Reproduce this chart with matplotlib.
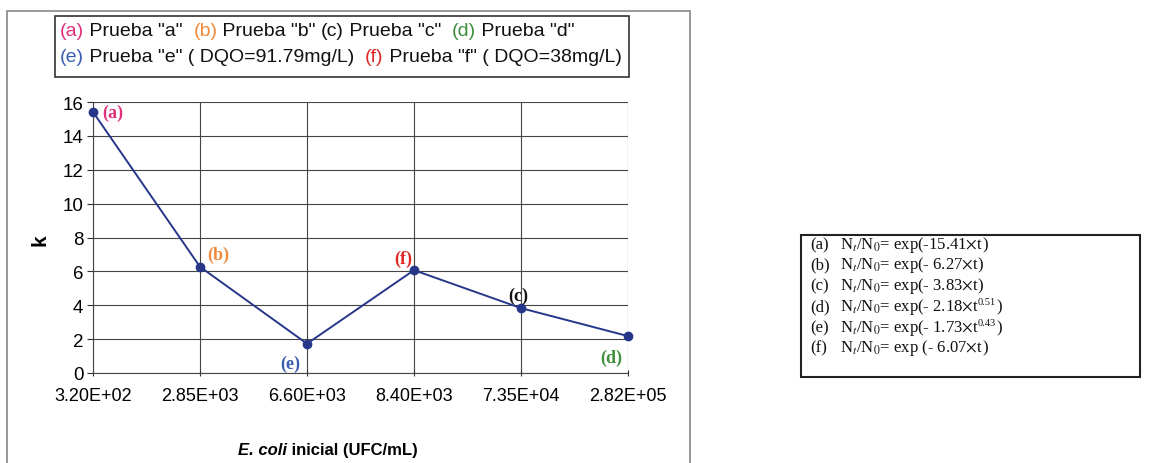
import matplotlib.pyplot as plt
from matplotlib.patches import Rectangle

# inoculum levels (categorical axis) and rate constants k
inoculo = ["3.20E+02", "2.85E+03", "6.60E+03", "8.40E+03", "7.35E+04", "2.82E+05"]
k_vals = [15.41, 6.27, 1.73, 6.07, 3.83, 2.18]
etiquetas = ["(a)", "(b)", "(e)", "(f)", "(c)", "(d)"]
colores = ["#e0307a", "#f08a3a", "#3a5cb0", "#e02828", "#111111", "#3f8f3f"]
y_ticks = [0, 2, 4, 6, 8, 10, 12, 14, 16]

# equation rows: tag, body, exponent on t (None if first order)
ecuaciones = [
    ("(a)", r"N$_t$/N$_0$= exp(-15.41$\times$t", None),
    ("(b)", r"N$_t$/N$_0$= exp(- 6.27$\times$t", None),
    ("(c)", r"N$_t$/N$_0$= exp(- 3.83$\times$t", None),
    ("(d)", r"N$_t$/N$_0$= exp(- 2.18$\times$t", "0.51"),
    ("(e)", r"N$_t$/N$_0$= exp(- 1.73$\times$t", "0.43"),
    ("(f)", r"N$_t$/N$_0$= exp (- 6.07$\times$t", None),
]
# text baselines of the equation rows (px from top)
fila_y = [249, 269, 290, 311, 332, 352]

plt.rcParams['font.family'] = ['Liberation Sans', 'DejaVu Sans']
plt.rcParams['mathtext.fontset'] = 'stix'

W, H = 1152, 464
fig = plt.figure(figsize=(W / 100, H / 100), dpi=100)

def fx(px):
    return px / W

def fy(py):
    return 1 - py / H

# outer frame of the chart area
fig.patches.append(Rectangle((fx(7), fy(480)), fx(683), fy(12) - fy(480),
                             transform=fig.transFigure, fill=False,
                             edgecolor="#888888", lw=1.2))

ax = fig.add_axes([fx(93), fy(374), fx(628) - fx(93), fy(103) - fy(374)])
x = list(range(len(inoculo)))
ax.plot(x, k_vals, color="#26378a", lw=1.4, marker="o", ms=6,
        markerfacecolor="#26378a", markeredgecolor="#26378a", clip_on=False, zorder=3)

ax.set_xlim(0, len(inoculo) - 1)
ax.set_ylim(0, 16)
ax.set_xticks(x)
ax.set_xticklabels(inoculo, fontsize=13)
ax.set_yticks(y_ticks)
ax.tick_params(axis="y", labelsize=13.5, length=4, color="#333333", pad=3)
ax.tick_params(axis="x", length=4, color="#333333", pad=8, direction="inout")
ax.grid(True, color="#444444", lw=0.8)
for s in ["top", "right"]:
    ax.spines[s].set_visible(False)
for s in ["left", "bottom"]:
    ax.spines[s].set_color("#444444")

# point labels
offs = [(7, 0, "left", "center"), (5, 3, "left", "bottom"), (-5, -8, "right", "top"),
        (-1, 2, "right", "bottom"), (-2, 3, "center", "bottom"), (-4, -9, "right", "top")]
for xi, yi, lab, c, (dx, dy, ha, va) in zip(x, k_vals, etiquetas, colores, offs):
    ax.annotate(lab, (xi, yi), xytext=(dx, dy), textcoords="offset points",
                ha=ha, va=va, color=c, fontsize=13, fontweight="bold",
                family="Liberation Serif", annotation_clip=False)

fig.text(fx(40), fy(240), "k", rotation=90, fontsize=15, fontweight="bold",
         ha="center", va="center")

fig.canvas.draw()
rend = fig.canvas.get_renderer()

# x axis title: italic species name followed by plain bold text
t_a = fig.text(0, 0, "E. coli", fontsize=12, fontweight="bold", style="italic")
t_b = fig.text(0, 0, " inicial (UFC/mL)", fontsize=12, fontweight="bold")
w_a = t_a.get_window_extent(rend).width
w_b = t_b.get_window_extent(rend).width
x0 = 328 - (w_a + w_b) / 2
t_a.set_position((fx(x0), fy(451)))
t_a.set_va("center")
t_b.set_position((fx(x0 + w_a), fy(451)))
t_b.set_va("center")

# legend box above the plot
fig.patches.append(Rectangle((fx(55), fy(78)), fx(574), fy(17) - fy(78),
                             transform=fig.transFigure, fill=False,
                             edgecolor="#333333", lw=1.2))
fila1 = [("(a)", colores[0], " Prueba \"a\"  "), ("(b)", colores[1], " Prueba \"b\" "),
         ("(c)", "#111111", " Prueba \"c\"  "), ("(d)", colores[5], " Prueba \"d\"")]
fila2 = [("(e)", colores[2], " Prueba \"e\" ( DQO=91.79mg/L)  "),
         ("(f)", colores[3], " Prueba \"f\" ( DQO=38mg/L)")]
for fila, ypx in [(fila1, 32), (fila2, 58)]:
    xpx = 60
    for tag, c, txt in fila:
        t1 = fig.text(fx(xpx), fy(ypx), tag, color=c, fontsize=14, va="center")
        xpx += t1.get_window_extent(rend).width
        t2 = fig.text(fx(xpx), fy(ypx), txt, color="#111111", fontsize=14, va="center")
        xpx += t2.get_window_extent(rend).width

# rate equations box
fig.patches.append(Rectangle((fx(801), fy(378)), fx(339), fy(236) - fy(378),
                             transform=fig.transFigure, fill=False,
                             edgecolor="#222222", lw=1.5))
eq_kw = dict(family="Liberation Serif", va="baseline", color="#111111")
for (tag, eq, expo), ypx in zip(ecuaciones, fila_y):
    fig.text(fx(810), fy(ypx), tag, fontsize=12, **eq_kw)
    t_eq = fig.text(fx(840), fy(ypx), eq, fontsize=12, **eq_kw)
    xe = 840 + t_eq.get_window_extent(rend).width - 1
    if expo is not None:
        t_sup = fig.text(fx(xe), fy(ypx - 6), expo, fontsize=7.5, **eq_kw)
        xe += t_sup.get_window_extent(rend).width
    fig.text(fx(xe), fy(ypx), ")", fontsize=12, **eq_kw)

fig.savefig("out.png", dpi=100)
